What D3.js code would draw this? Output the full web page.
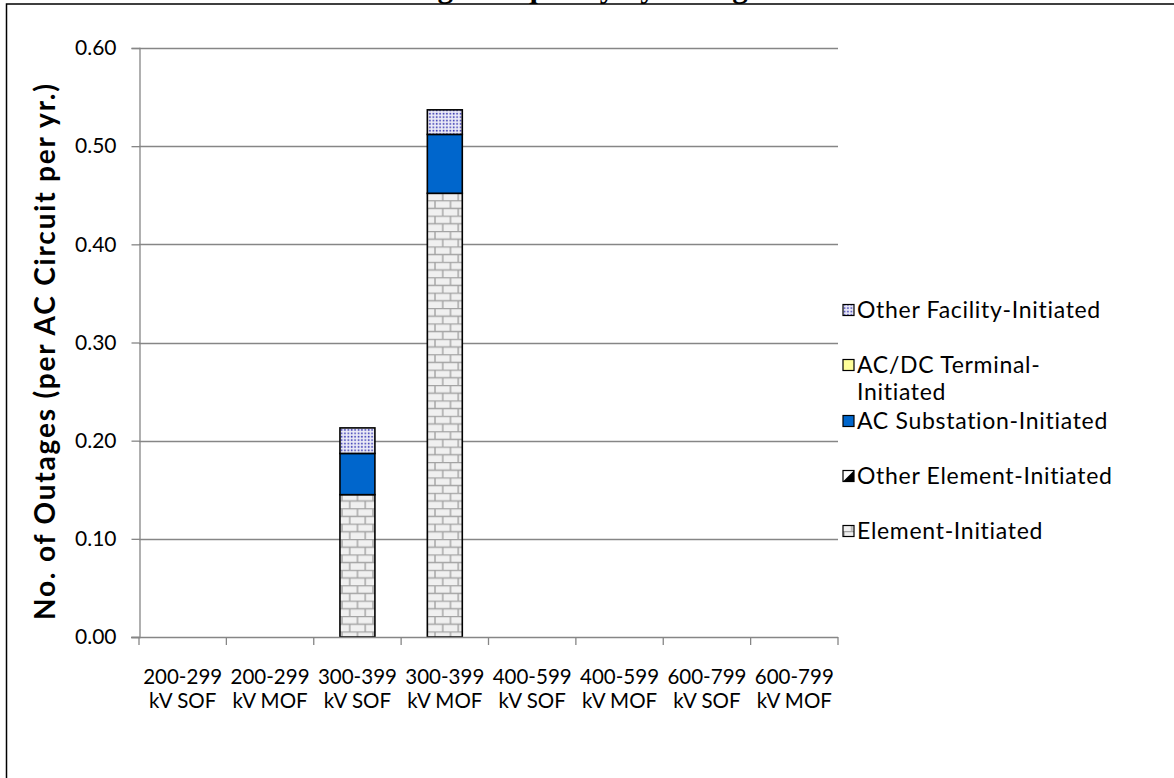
<!DOCTYPE html>
<html>
<head>
<meta charset="utf-8">
<script src="https://cdn.jsdelivr.net/npm/d3@7"></script>
<style>
  html, body { margin: 0; padding: 0; background: #fff; }
  svg { display: block; }
  text { font-family: Lato, "Open Sans", sans-serif; fill: #000; }
</style>
</head>
<body>
<svg id="chart" width="1174" height="778"></svg>
<script>
// Outage counts per AC circuit per year, by voltage class and initiation type
const categories = [
  ["200-299", "kV SOF"], ["200-299", "kV MOF"],
  ["300-399", "kV SOF"], ["300-399", "kV MOF"],
  ["400-599", "kV SOF"], ["400-599", "kV MOF"],
  ["600-799", "kV SOF"], ["600-799", "kV MOF"]
];
const elementInitiated       = [0, 0, 0.145, 0.452, 0, 0, 0, 0];
const otherElementInitiated  = [0, 0, 0, 0, 0, 0, 0, 0];
const acSubstationInitiated  = [0, 0, 0.042, 0.060, 0, 0, 0, 0];
const acdcTerminalInitiated  = [0, 0, 0, 0, 0, 0, 0, 0];
const otherFacilityInitiated = [0, 0, 0.026, 0.025, 0, 0, 0, 0];
const yTicks = [0, 0.1, 0.2, 0.3, 0.4, 0.5, 0.6];

const seriesNames = [
  "Element-Initiated",
  "Other Element-Initiated",
  "AC Substation-Initiated",
  "AC/DC Terminal-Initiated",
  "Other Facility-Initiated"
];
const seriesValues = [elementInitiated, otherElementInitiated, acSubstationInitiated,
                      acdcTerminalInitiated, otherFacilityInitiated];

const svg = d3.select("#chart");
const defs = svg.append("defs");

// brick fill
const brick = defs.append("pattern").attr("id", "brick")
  .attr("patternUnits", "userSpaceOnUse").attr("width", 15.5).attr("height", 15.4);
brick.append("rect").attr("width", 15.5).attr("height", 15.4).attr("fill", "#f0f0f0");
brick.append("path")
  .attr("d", "M0,0.5H15.5M0,8.2H15.5M1,0V7.7M8.75,7.7V15.4")
  .attr("stroke", "#a3a3a3").attr("stroke-width", 1.4).attr("fill", "none");

// dotted fill
const dots = defs.append("pattern").attr("id", "dots")
  .attr("patternUnits", "userSpaceOnUse").attr("width", 3.4).attr("height", 3.4);
dots.append("rect").attr("width", 3.4).attr("height", 3.4).attr("fill", "#ebebf7");
dots.append("rect").attr("x", 0.7).attr("y", 0.7).attr("width", 1.6).attr("height", 1.6).attr("fill", "#3d3db5");

const fills = ["url(#brick)", "#ffffff", "#0066cc", "#ffff99", "url(#dots)"];

const x0 = 139, x1 = 838, yTop = 48, yBottom = 637;
const x = d3.scaleBand().domain(d3.range(categories.length))
  .range([x0, x1]).paddingInner(0.6).paddingOuter(0.3);
const y = d3.scaleLinear().domain([0, 0.6]).range([yBottom, yTop]);
const gridColor = "#868686";

// outer frame
svg.append("path").attr("d", "M6.5,778V4H1174")
  .attr("fill", "none").attr("stroke", "#000").attr("stroke-width", 1.5);

// title (runs off the top edge)
svg.append("text").attr("x", 566).attr("y", -3)
  .attr("text-anchor", "middle")
  .style("font-family", "'Liberation Serif', 'DejaVu Serif', serif")
  .style("font-weight", "bold").style("font-size", "31px")
  .text("Outage Frequency by Voltage");

// gridlines
svg.append("g").selectAll("line").data(yTicks.filter(d => d > 0)).join("line")
  .attr("x1", x0).attr("x2", x1)
  .attr("y1", d => Math.round(y(d)) + 0.5).attr("y2", d => Math.round(y(d)) + 0.5)
  .attr("stroke", gridColor).attr("stroke-width", 1.3);

// y axis
const yAxis = svg.append("g").attr("transform", `translate(${x0 + 0.5},0)`)
  .call(d3.axisLeft(y).tickValues(yTicks).tickFormat(d3.format(".2f")).tickSize(8).tickPadding(15));
yAxis.select(".domain").attr("stroke", gridColor).attr("stroke-width", 1.3);
yAxis.selectAll(".tick line").attr("stroke", gridColor).attr("stroke-width", 1.3);
yAxis.selectAll(".tick text").style("font-family", "Lato, sans-serif")
  .style("font-size", "21px").attr("fill", "#000");

// stacked bars
const stackData = categories.map((c, i) => {
  const row = { i };
  seriesNames.forEach((s, k) => row[s] = seriesValues[k][i]);
  return row;
});
const stacked = d3.stack().keys(seriesNames)(stackData);
const barG = svg.append("g");
stacked.forEach((layer, k) => {
  barG.append("g").selectAll("rect")
    .data(layer.filter(d => d[1] - d[0] > 0)).join("rect")
    .attr("x", d => x(d.data.i))
    .attr("width", x.bandwidth())
    .attr("y", d => y(d[1]))
    .attr("height", d => y(d[0]) - y(d[1]))
    .attr("fill", fills[k])
    .attr("stroke", "#000").attr("stroke-width", 1.6);
});

// x axis
const xAxisG = svg.append("g");
xAxisG.append("line").attr("x1", x0 - 8).attr("x2", x1)
  .attr("y1", yBottom + 0.5).attr("y2", yBottom + 0.5)
  .attr("stroke", gridColor).attr("stroke-width", 1.3);
const step = x.step();
xAxisG.selectAll("line.tick").data(d3.range(categories.length + 1)).join("line")
  .attr("class", "tick")
  .attr("x1", i => x0 + i * step).attr("x2", i => x0 + i * step)
  .attr("y1", yBottom).attr("y2", yBottom + 8)
  .attr("stroke", gridColor).attr("stroke-width", 1.3);
const xl = xAxisG.selectAll("text").data(categories).join("text")
  .attr("text-anchor", "middle")
  .attr("transform", (d, i) => `translate(${x(i) + x.bandwidth() / 2},684)`)
  .style("font-size", "20.5px");
xl.selectAll("tspan").data(d => d).join("tspan")
  .attr("x", 0).attr("dy", (d, j) => j === 0 ? 0 : 24).text(d => d);

// y axis title
svg.append("text")
  .attr("transform", `translate(55,352) rotate(-90)`)
  .attr("text-anchor", "middle")
  .attr("textLength", 536).attr("lengthAdjust", "spacing")
  .style("font-weight", "bold").style("font-size", "28px")
  .text("No. of Outages (per AC Circuit per yr.)");

// legend (top to bottom: reverse stack order)
const legendItems = [
  { k: 4, lines: ["Other Facility-Initiated"], y: 310 },
  { k: 3, lines: ["AC/DC Terminal-", "Initiated"], y: 365 },
  { k: 2, lines: ["AC Substation-Initiated"], y: 421 },
  { k: 1, lines: ["Other Element-Initiated"], y: 476 },
  { k: 0, lines: ["Element-Initiated"], y: 531 }
];
const lg = svg.append("g").selectAll("g").data(legendItems).join("g")
  .attr("transform", d => `translate(843,${d.y})`);
lg.append("rect").attr("x", 0).attr("y", -5.5).attr("width", 11).attr("height", 11)
  .attr("fill", d => d.k === 1 ? "#fff" : fills[d.k])
  .attr("stroke", "#000").attr("stroke-width", 1.2);
lg.filter(d => d.k === 1).append("path")
  .attr("d", "M11,-5.5L11,5.5L0,5.5Z").attr("fill", "#000");
lg.append("text").attr("x", 14).attr("y", 8)
  .style("font-size", "23px").style("letter-spacing", "0.7px")
  .selectAll("tspan").data(d => d.lines).join("tspan")
  .attr("x", 14).attr("dy", (d, j) => j === 0 ? 0 : 27).text(d => d);
</script>
</body>
</html>
